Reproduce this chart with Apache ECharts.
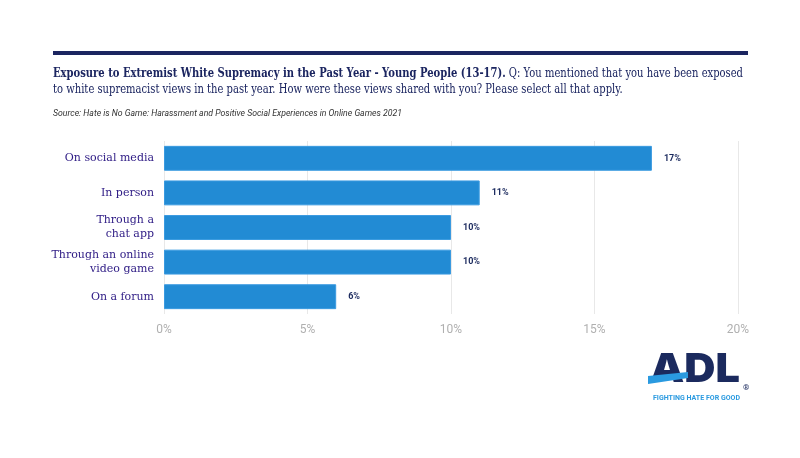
<!DOCTYPE html>
<html><head><meta charset="utf-8">
<script src="https://cdn.jsdelivr.net/npm/echarts@6/dist/echarts.min.js"></script>
<style>html,body{margin:0;padding:0;background:#fff}#c{width:800px;height:458px}</style>
</head><body><div id="c"></div>
<script>
const categories = ["On social media", "In person", "Through a\nchat app", "Through an online\nvideo game", "On a forum"];
const values = [17, 11, 10, 10, 6];
const tickLabels = ["0%", "5%", "10%", "15%", "20%"];
const titleBold = "Exposure to Extremist White Supremacy in the Past Year - Young People (13-17).";
const titleRest1 = " Q: You mentioned that you have been exposed";
const titleLine2 = "to white supremacist views in the past year. How were these views shared with you? Please select all that apply.";
const sourceText = "Source: Hate is No Game: Harassment and Positive Social Experiences in Online Games 2021";

const serif = "'DejaVu Serif', serif";
const tfs = 12.5;
const cv = document.createElement('canvas').getContext('2d');
cv.font = 'bold ' + tfs + 'px ' + serif;
let w1 = cv.measureText(titleBold).width;
cv.font = tfs + 'px ' + serif;
w1 += cv.measureText(titleRest1).width;
const sx = 690 / w1;

const chart = echarts.init(document.getElementById('c'), null, {renderer: 'canvas'});
chart.setOption({
  animation: false,
  backgroundColor: '#fff',
  grid: {left: 164, right: 62, top: 141, height: 173, containLabel: false},
  xAxis: {
    type: 'value', min: 0, max: 20, interval: 5,
    axisLine: {show: false}, axisTick: {show: false},
    splitLine: {lineStyle: {color: '#e8e8e8', width: 1}},
    axisLabel: {color: '#b0b0b0', fontFamily: 'Roboto', fontSize: 12, margin: 10,
      formatter: v => tickLabels[v / 5]}
  },
  yAxis: {
    type: 'category', data: categories, inverse: true,
    axisLine: {show: false}, axisTick: {show: false},
    axisLabel: {color: '#2d1a84', fontFamily: serif, fontSize: 11, margin: 10, lineHeight: 14, align: 'right'}
  },
  series: [{
    type: 'bar', data: values, barWidth: '72%',
    itemStyle: {color: '#228bd4', borderColor: '#3a9ae0', borderWidth: 1},
    label: {show: true, position: 'right', distance: 12, formatter: p => p.value + '%',
      color: '#1b2a5e', fontFamily: 'Roboto', fontWeight: 'bold', fontSize: 9}
  }],
  graphic: [
    {type: 'rect', shape: {x: 53, y: 51, width: 695, height: 4}, style: {fill: '#1b2560'}},
    {type: 'text', x: 53, y: 67, scaleX: sx, style: {
      text: '{b|' + titleBold + '}{n|' + titleRest1 + '}', verticalAlign: 'top',
      rich: {
        b: {fontFamily: serif, fontWeight: 'bold', fontSize: tfs, fill: '#1b2560'},
        n: {fontFamily: serif, fontSize: tfs, fill: '#1b2560'}
      }}},
    {type: 'text', x: 53, y: 83, scaleX: sx, style: {text: titleLine2, verticalAlign: 'top', fontFamily: serif, fontSize: tfs, fill: '#1b2560'}},
    {type: 'text', x: 53, y: 109, style: {text: sourceText, verticalAlign: 'top', fontFamily: 'Roboto', fontStyle: 'italic', fontSize: 8.7, fill: '#333'}},
    {type: 'text', x: 650, y: 350, scaleX: 1.08, style: {text: 'ADL', verticalAlign: 'top', fontFamily: 'Inter', fontWeight: 900, fontSize: 40, fill: '#1b2a5e'}},
    {type: 'polygon', shape: {points: [[648, 376], [688, 372], [688, 378], [648, 384]]}, style: {fill: '#2a9ae0'}},
    {type: 'text', x: 743, y: 384, style: {text: '®', verticalAlign: 'top', fontFamily: 'Roboto', fontWeight: 'bold', fontSize: 8, fill: '#1b2a5e'}},
    {type: 'text', x: 653, y: 394, scaleX: 0.88, style: {text: 'FIGHTING HATE FOR GOOD', verticalAlign: 'top', fontFamily: 'Roboto', fontWeight: 'bold', fontSize: 8, fill: '#2a9ae0'}}
  ]
});
</script></body></html>
